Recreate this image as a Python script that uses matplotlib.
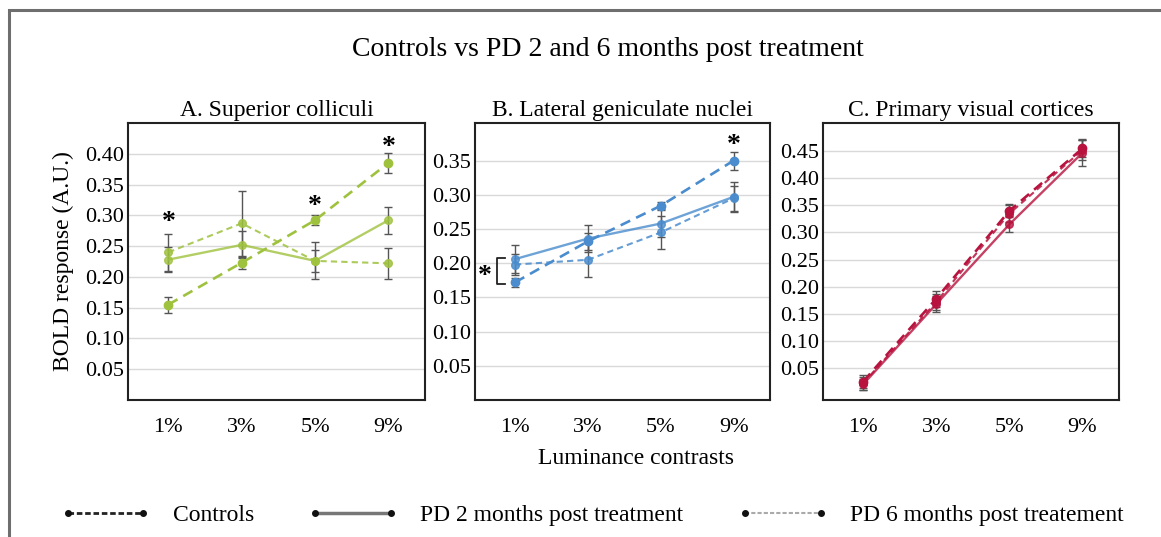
import matplotlib.pyplot as plt
from matplotlib.lines import Line2D
from matplotlib.patches import Rectangle
import numpy as np

plt.rcParams['font.family'] = ['Liberation Serif', 'DejaVu Serif']

contrasts = ['1%', '3%', '5%', '9%']

# A. Superior colliculi
sc_controls = [0.155, 0.223, 0.292, 0.385]
sc_controls_err = [0.013, 0.010, 0.008, 0.017]
sc_pd2 = [0.228, 0.252, 0.226, 0.292]
sc_pd2_err = [0.020, 0.022, 0.030, 0.022]
sc_pd6 = [0.240, 0.287, 0.226, 0.222]
sc_pd6_err = [0.030, 0.053, 0.018, 0.025]

# B. Lateral geniculate nuclei
lgn_controls = [0.172, 0.232, 0.284, 0.350]
lgn_controls_err = [0.007, 0.012, 0.005, 0.013]
lgn_pd2 = [0.206, 0.236, 0.258, 0.297]
lgn_pd2_err = [0.020, 0.020, 0.020, 0.022]
lgn_pd6 = [0.198, 0.205, 0.245, 0.295]
lgn_pd6_err = [0.015, 0.025, 0.024, 0.018]

# C. Primary visual cortices
v1_controls = [0.025, 0.178, 0.340, 0.455]
v1_controls_err = [0.012, 0.015, 0.012, 0.015]
v1_pd2 = [0.020, 0.168, 0.315, 0.447]
v1_pd2_err = [0.010, 0.015, 0.015, 0.025]
v1_pd6 = [0.022, 0.172, 0.335, 0.452]
v1_pd6_err = [0.012, 0.015, 0.015, 0.018]

panels = [
    ('A. Superior colliculi', '#9fc23e', sc_controls, sc_controls_err, sc_pd2, sc_pd2_err, sc_pd6, sc_pd6_err,
     (0, 0.45), np.arange(0.05, 0.41, 0.05), [0.128 / 1.161, 0.297 / 1.161]),
    ('B. Lateral geniculate nuclei', '#4a8ccd', lgn_controls, lgn_controls_err, lgn_pd2, lgn_pd2_err, lgn_pd6, lgn_pd6_err,
     (0, 0.405), np.arange(0.05, 0.36, 0.05), [0.475 / 1.161, 0.295 / 1.161]),
    ('C. Primary visual cortices', '#b8133e', v1_controls, v1_controls_err, v1_pd2, v1_pd2_err, v1_pd6, v1_pd6_err,
     (-0.009, 0.502), np.arange(0.05, 0.46, 0.05), [0.823 / 1.161, 0.296 / 1.161]),
]

fig = plt.figure(figsize=(11.61, 5.37), dpi=100)
fig.patches.append(Rectangle((9 / 1161, -0.1), 1.2, 1 - 10 / 537 + 0.1, transform=fig.transFigure,
                             fill=False, edgecolor='#6e6e6e', linewidth=2.2))

x = np.arange(4)
axes = []
for title, color, c, ce, p2, p2e, p6, p6e, ylim, ticks, (left, width) in panels:
    ax = fig.add_axes([left, 1 - 400 / 537, width, 277 / 537])
    axes.append(ax)
    ekw = dict(ecolor='#555555', elinewidth=1, capsize=3, capthick=1, zorder=2)
    ax.errorbar(x, p2, yerr=p2e, fmt='none', **ekw)
    ax.errorbar(x, p6, yerr=p6e, fmt='none', **ekw)
    ax.errorbar(x, c, yerr=ce, fmt='none', **ekw)
    ax.plot(x, p2, '-', color=color, lw=1.7, marker='o', ms=5.5, alpha=0.8, zorder=3)
    ax.plot(x, p6, color=color, lw=1.5, ls=(0, (3, 2)), marker='o', ms=5.5, alpha=0.85, zorder=3)
    ax.plot(x, c, color=color, lw=1.9, ls=(0, (4, 2.5)), marker='o', ms=6, zorder=4)
    ax.set_ylim(*ylim)
    ax.set_xlim(-0.55, 3.5)
    ax.set_yticks(ticks)
    ax.set_yticklabels(['%.2f' % t for t in ticks])
    ax.set_xticks(x)
    ax.set_xticklabels(contrasts)
    ax.tick_params(length=0, labelsize=16, pad=3)
    ax.tick_params(axis='x', pad=13)
    ax.grid(axis='y', color='#d9d9d9', lw=1)
    ax.set_axisbelow(True)
    for s in ax.spines.values():
        s.set_linewidth(1.5)
        s.set_color('#222222')
    ax.set_title(title, fontsize=17, pad=5)

axes[0].set_ylabel('BOLD response (A.U.)', fontsize=17, labelpad=8)

# significance marks
star = dict(ha='center', va='center', fontsize=20, fontweight='bold')
axes[0].text(0, 0.288, '*', **star)
axes[0].text(2, 0.314, '*', **star)
axes[0].text(3, 0.410, '*', **star)
axes[1].text(3, 0.372, '*', **star)
axes[1].text(-0.41, 0.181, '*', **star)
axes[1].plot([-0.14, -0.25, -0.25, -0.14], [0.207, 0.207, 0.170, 0.170], color='#222222', lw=1.3, clip_on=False)

fig.text(0.524, 1 - 50 / 537, 'Controls vs PD 2 and 6 months post treatment', ha='center', va='center', fontsize=20)
fig.text(0.548, 1 - 458 / 537, 'Luminance contrasts', ha='center', va='center', fontsize=17)

handles = [
    Line2D([0], [0], color='#222222', lw=2, ls=(0, (2, 1)), marker='o', ms=4, mfc='#111111', mec='#111111'),
    Line2D([0], [0], color='#777777', lw=2.5, ls='-', marker='o', ms=4, mfc='#111111', mec='#111111'),
    Line2D([0], [0], color='#aaaaaa', lw=1.5, ls=(0, (2, 1)), marker='o', ms=4, mfc='#111111', mec='#111111'),
]
labels = ['Controls', 'PD 2 months post treatment', 'PD 6 months post treatement']
fig.legend(handles, labels, loc='center', bbox_to_anchor=(0.51, 1 - 515 / 537), ncol=3, frameon=False,
           fontsize=17, handlelength=3.8, handletextpad=0.95, columnspacing=2.3, numpoints=2)

fig.savefig('out.png', dpi=100)
